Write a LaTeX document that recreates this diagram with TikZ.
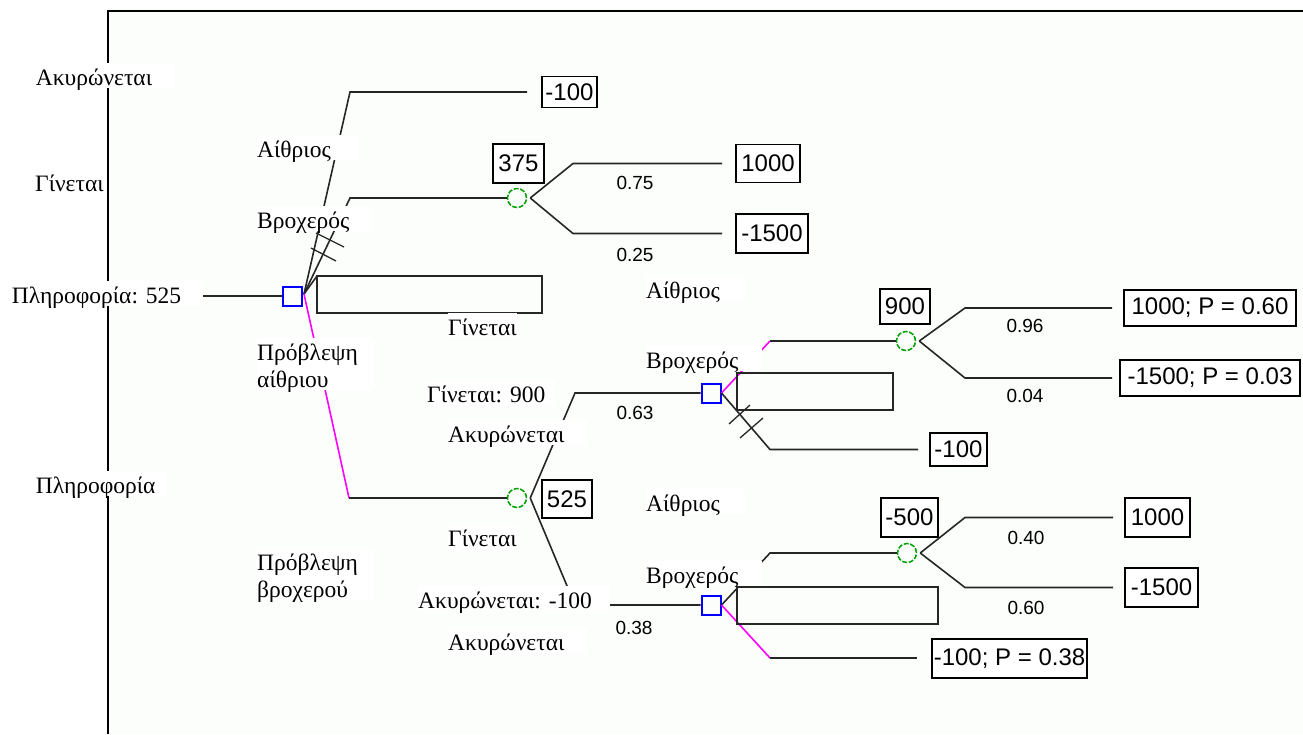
\documentclass[tikz,border=0pt]{standalone}
\usepackage{fontspec}
\setmainfont{Liberation Serif}
\newfontfamily\numfont{Liberation Sans}
\definecolor{chgreen}{RGB}{0,160,0}
\definecolor{optpink}{RGB}{255,0,255}
\definecolor{panel}{RGB}{252,254,252}
\frenchspacing
\begin{document}
\begin{tikzpicture}[x=1pt,y=-1pt,
  edge/.style={draw=black!85, line width=1.6pt},
  opt/.style={draw=optpink, line width=1.6pt},
  dec/.style={draw=blue, rectangle, line width=2pt, minimum size=19pt, inner sep=0pt},
  chn/.style={draw=chgreen, circle, line width=1.5pt, minimum size=19pt, inner sep=0pt,
              dash pattern=on 5pt off 1.6pt},
  val/.style={draw=black, line width=1.7pt, fill=white, inner sep=0pt,
              font=\numfont\fontsize{24}{26}\selectfont},
  prob/.style={inner sep=0pt, font=\numfont\fontsize{19}{22}\selectfont},
  lbl/.style={fill=white, inner sep=0pt, anchor=base west, align=left,
              text height=22.5pt, text depth=3pt, font=\fontsize{23.5}{27}\selectfont},
  lbltwo/.style={lbl, text depth=30pt},
  cut/.style={draw=black!85, line width=1.3pt},
  frame/.style={draw=black, line width=2.6pt}]

\useasboundingbox (0,0) rectangle (1303,734);
\fill[white] (0,0) rectangle (1303,734);
\fill[panel] (108,11) rectangle (1303,734);
\draw[frame] (108,734) -- (108,11) -- (1303,11);

% decision and chance nodes
\node[dec] (d0) at (292,296) {};
\node[dec] (d1) at (711,393) {};
\node[dec] (d2) at (711,605) {};
\node[chn] (c0) at (517,198) {};
\node[chn] (c1) at (517,498) {};
\node[chn] (c2) at (906,341) {};
\node[chn] (c3) at (907,553) {};

% values
\node[val, minimum width=55pt, minimum height=31pt] (vA) at (569.5,92) {-100};
\node[val, minimum width=51pt, minimum height=39pt] (v375) at (518.5,163.5) {375};
\node[val, minimum width=64pt, minimum height=38pt] (vB) at (768,163.5) {1000};
\node[val, minimum width=72pt, minimum height=39pt] (vC) at (772,233.5) {-1500};
\node[val, minimum width=50pt, minimum height=35pt] (v900) at (905,306.5) {900};
\node[val, minimum width=172pt, minimum height=36pt] (vD) at (1210,308) {1000; P = 0.60};
\node[val, minimum width=180pt, minimum height=36pt] (vE) at (1210,378) {-1500; P = 0.03};
\node[val, minimum width=57pt, minimum height=33pt] (vF) at (958.5,449.5) {-100};
\node[val, minimum width=50pt, minimum height=38pt] (v525) at (567,499) {525};
\node[val, minimum width=57pt, minimum height=39pt] (v500) at (909.5,517.5) {-500};
\node[val, minimum width=65pt, minimum height=39pt] (vG) at (1157.5,517.5) {1000};
\node[val, minimum width=73pt, minimum height=39pt] (vH) at (1161.5,587.5) {-1500};
\node[val, minimum width=155pt, minimum height=39pt] (vI) at (1009.5,658.5) {-100; P = 0.38};

% bend points and line ends
\coordinate (in0) at (203,296);
\coordinate (f0) at (304,294);
\coordinate (k1) at (350,92);
\coordinate (e1) at (527,92);
\coordinate (k2) at (350,198);
\coordinate (r0) at (317,276);
\coordinate (r0b) at (542,313);
\coordinate (k3) at (349,498);
\coordinate (c0o) at ([xshift=3pt]c0.east);
\coordinate (k4) at (573,163.5);
\coordinate (e4) at (722,163.5);
\coordinate (k5) at (573,233.5);
\coordinate (e5) at (722,233.5);
\coordinate (c1o) at ([xshift=3pt]c1.east);
\coordinate (k6) at (575,393);
\coordinate (k7) at (575,605);
\coordinate (f1) at (d1.east);
\coordinate (k8) at (770,341);
\coordinate (k9) at (770,449.5);
\coordinate (e9) at (918,449.5);
\coordinate (r1) at (737,373);
\coordinate (r1b) at (893,410);
\coordinate (c2o) at ([xshift=3pt]c2.east);
\coordinate (k12) at (965,308);
\coordinate (e12) at (1112,308);
\coordinate (k13) at (965,378);
\coordinate (e13) at (1112,378);
\coordinate (f2) at (d2.east);
\coordinate (k10) at (770,553);
\coordinate (k11) at (770,658);
\coordinate (e11) at (917,658);
\coordinate (r2) at (737,587);
\coordinate (r2b) at (938,624);
\coordinate (c3o) at ([xshift=3pt]c3.east);
\coordinate (k14) at (965,517.5);
\coordinate (e14) at (1113,517.5);
\coordinate (k15) at (965,587.5);
\coordinate (e15) at (1113,587.5);

% branches
\draw[edge] (in0) -- (d0);
\draw[edge] (f0) -- (k1) -- (e1);
\draw[edge] (f0) -- (k2) -- (c0);
\draw[edge] (f0) -- (r0);
\draw[edge, line width=1.8pt] (r0) rectangle (r0b);
\draw[opt] (f0) -- (k3);
\draw[edge] (k3) -- (c1);
\draw[edge] (c0o) -- (k4) -- (e4);
\draw[edge] (c0o) -- (k5) -- (e5);
\draw[edge] (c1o) -- (k6) -- (d1);
\draw[edge] (c1o) -- (k7) -- (d2);
\draw[opt] (f1) -- (k8);
\draw[edge] (k8) -- (c2);
\draw[edge] (f1) -- (k9) -- (e9);
\draw[edge, line width=1.8pt] (r1) rectangle (r1b);
\draw[edge] (c2o) -- (k12) -- (e12);
\draw[edge] (c2o) -- (k13) -- (e13);
\draw[edge] (f2) -- (k10) -- (c3);
\draw[opt] (f2) -- (k11);
\draw[edge] (k11) -- (e11);
\draw[edge, line width=1.8pt] (r2) rectangle (r2b);
\draw[edge] (c3o) -- (k14) -- (e14);
\draw[edge] (c3o) -- (k15) -- (e15);

% pruned-branch marks
\draw[cut] (316,233) -- (344,247);
\draw[cut] (311,248) -- (336,261);
\draw[cut] (729,424) -- (750,405);
\draw[cut] (740,438) -- (763,418);

% probabilities
\node[prob] (p1) at (635,183) {0.75};
\node[prob] (p2) at (635,255) {0.25};
\node[prob] (p3) at (635,413) {0.63};
\node[prob] (p4) at (634,628) {0.38};
\node[prob] (p5) at (1025,326) {0.96};
\node[prob] (p6) at (1025,396) {0.04};
\node[prob] (p7) at (1026,538) {0.40};
\node[prob] (p8) at (1026,608) {0.60};

% branch labels
\node[lbl, text width=139pt] (l1) at (35.7,85) {Ακυρώνεται};
\node[lbl] (l2) at (35,191) {Γίνεται};
\node[lbl, text width=191pt] (l3) at (11.7,303) {Πληροφορία: 525};
\node[lbl, text width=131pt] (l4) at (35.7,493) {Πληροφορία};
\node[lbl, text width=101pt] (l5) at (257,157) {Αίθριος};
\node[lbl, text width=115pt] (l6) at (257,228) {Βροχερός};
\node[lbltwo, text width=116pt] (l7) at (257,360) {Πρόβλεψη\\αίθριου};
\node[lbl] (l8) at (448,335) {Γίνεται};
\node[lbl, text width=128pt] (l9) at (427,402) {Γίνεται: 900};
\node[lbl, text width=139pt] (l10) at (448,442) {Ακυρώνεται};
\node[lbl, text width=99pt] (l11) at (646,298) {Αίθριος};
\node[lbl, text width=116pt] (l12) at (646,368) {Βροχερός};
\node[lbl, text width=99pt] (l13) at (646,511) {Αίθριος};
\node[lbl] (l14) at (448,546) {Γίνεται};
\node[lbl, text width=116pt] (l15) at (646,583) {Βροχερός};
\node[lbltwo, text width=116pt] (l16) at (257,570) {Πρόβλεψη\\βροχερού};
\node[lbl, text width=192pt] (l17) at (418,608) {Ακυρώνεται: -100};
\node[lbl, text width=139pt] (l18) at (448,650) {Ακυρώνεται};
\end{tikzpicture}
\end{document}
